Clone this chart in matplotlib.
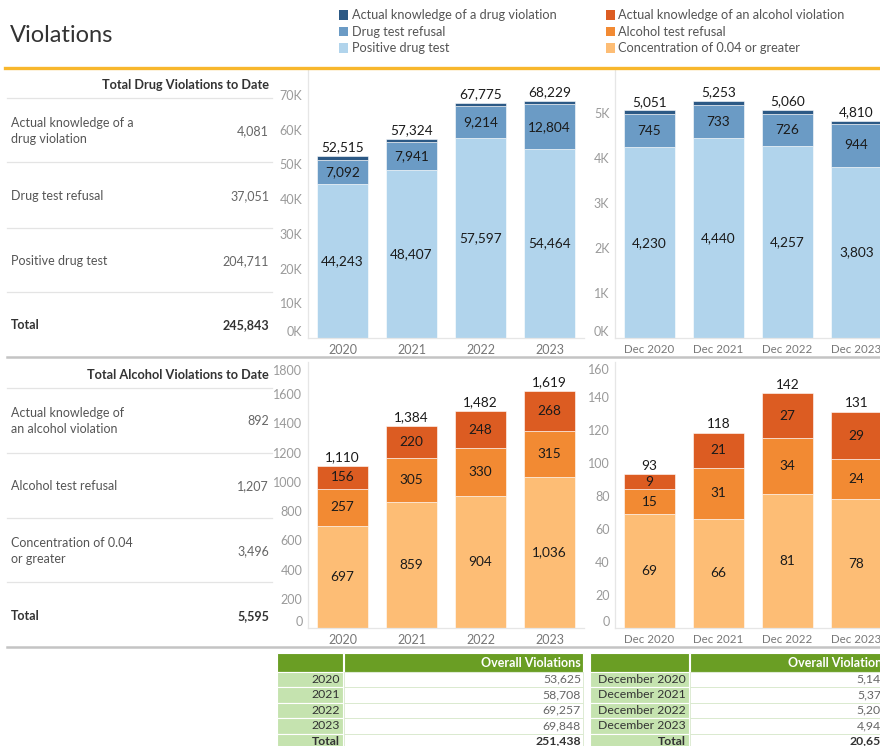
import matplotlib
matplotlib.use("Agg")
import matplotlib.pyplot as plt
from matplotlib.patches import Rectangle
from matplotlib.lines import Line2D

plt.rcParams['font.family'] = ['Lato', 'DejaVu Sans']

W, H = 880, 746

# ---------------- data ----------------
years = ["2020", "2021", "2022", "2023"]
months = ["Dec 2020", "Dec 2021", "Dec 2022", "Dec 2023"]

drug_positive_year = [44243, 48407, 57597, 54464]
drug_refusal_year = [7092, 7941, 9214, 12804]
drug_knowledge_year = [1180, 976, 964, 961]

drug_positive_dec = [4230, 4440, 4257, 3803]
drug_refusal_dec = [745, 733, 726, 944]
drug_knowledge_dec = [76, 80, 77, 63]

alc_conc_year = [697, 859, 904, 1036]
alc_refusal_year = [257, 305, 330, 315]
alc_knowledge_year = [156, 220, 248, 268]

alc_conc_dec = [69, 66, 81, 78]
alc_refusal_dec = [15, 31, 34, 24]
alc_knowledge_dec = [9, 21, 27, 29]

drug_table_labels = ["Actual knowledge of a\ndrug violation", "Drug test refusal", "Positive drug test"]
drug_table_values = [4081, 37051, 204711]
drug_table_total = 245843
alc_table_labels = ["Actual knowledge of\nan alcohol violation", "Alcohol test refusal", "Concentration of 0.04\nor greater"]
alc_table_values = [892, 1207, 3496]
alc_table_total = 5595

overall_year_labels = ["2020", "2021", "2022", "2023", "Total"]
overall_year_values = [53625, 58708, 69257, 69848, 251438]
overall_dec_labels = ["December 2020", "December 2021", "December 2022", "December 2023", "Total"]
overall_dec_values = [5144, 5371, 5202, 4941, 20658]

legend_drug = ["Actual knowledge of a drug violation", "Drug test refusal", "Positive drug test"]
legend_alc = ["Actual knowledge of an alcohol violation", "Alcohol test refusal", "Concentration of 0.04 or greater"]

# ---------------- styles ----------------
C_DRUG = ["#B1D4EC", "#6B9BC5", "#2C5985"]   # positive, refusal, knowledge
C_ALC = ["#FDBD75", "#F28A33", "#DC5C22"]    # concentration, refusal, knowledge
GREEN = "#6A9E24"
LGREEN = "#C5E3AF"
AX_GRAY = "#9A9A9A"

fig = plt.figure(figsize=(W / 100, H / 100), dpi=100)


def fx(x):
    return x / W


def fy(y):
    return 1 - y / H


def ftext(x, y, s, **kw):
    kw.setdefault('va', 'center')
    fig.text(fx(x), fy(y), s, **kw)


def hline(x0, x1, y, color, lw):
    fig.add_artist(Line2D([fx(x0), fx(x1)], [fy(y), fy(y)], color=color, lw=lw,
                          transform=fig.transFigure))


def rect(x0, y0, x1, y1, fc, ec='none', lw=0):
    fig.add_artist(Rectangle((fx(x0), fy(y1)), fx(x1) - fx(x0), fy(y0) - fy(y1),
                             facecolor=fc, edgecolor=ec, lw=lw, transform=fig.transFigure))


def px_axes(x0, y0, x1, y1):
    return fig.add_axes([fx(x0), fy(y1), fx(x1) - fx(x0), fy(y0) - fy(y1)])


# ---------------- header ----------------
ftext(10, 35, "Violations", fontsize=17, color="#333333", ha='left')
for i, (lab, c) in enumerate(zip(legend_drug, C_DRUG[::-1])):
    y = 15 + i * 16.5
    rect(339, y - 4.5, 348, y + 4.5, c)
    ftext(352, y, lab, fontsize=9.2, color="#555555", ha='left')
for i, (lab, c) in enumerate(zip(legend_alc, C_ALC[::-1])):
    y = 15 + i * 16.5
    rect(606, y - 4.5, 615, y + 4.5, c)
    ftext(618, y, lab, fontsize=9.2, color="#555555", ha='left')
hline(5, 880, 67.5, "#F8B72C", 2.4)


# ---------------- left tables ----------------
def side_table(y_head, seps, rows_y, labels, values, total, total_y, title):
    ftext(269, y_head, title, fontsize=9.2, fontweight='bold', color="#333333", ha='right')
    for s in seps:
        hline(7, 272, s, "#E4E4E4", 0.9)
    for lab, v, y in zip(labels, values, rows_y):
        ftext(11, y, lab, fontsize=9, color="#555555", ha='left', linespacing=1.35)
        ftext(269, y, f"{v:,}", fontsize=9, color="#666666", ha='right')
    ftext(11, total_y, "Total", fontsize=9, fontweight='bold', color="#333333", ha='left')
    ftext(269, total_y, f"{total:,}", fontsize=9, fontweight='bold', color="#333333", ha='right')


side_table(85, [98, 162, 228, 292], [131, 196, 261], drug_table_labels, drug_table_values,
           drug_table_total, 325, "Total Drug Violations to Date")
hline(7, 880, 357, "#C4C4C4", 1.8)
side_table(375, [388, 453, 518, 582], [421, 486, 551], alc_table_labels, alc_table_values,
           alc_table_total, 616, "Total Alcohol Violations to Date")
hline(7, 880, 647, "#C4C4C4", 1.8)


# ---------------- bar charts ----------------
def bar_chart(box, cats, series, colors, ymax, ticks, ticklabels, label_mask, edge_label, xfs=9):
    ax = px_axes(*box)
    n = len(cats)
    x = list(range(n))
    bottoms = [0] * n
    for si, (vals, c) in enumerate(zip(series, colors)):
        ax.bar(x, vals, bottom=bottoms, width=0.74, color=c, edgecolor='white', linewidth=0.4)
        if label_mask[si]:
            for i in range(n):
                ax.text(x[i], bottoms[i] + vals[i] / 2, f"{vals[i]:,}", ha='center', va='center',
                        fontsize=9.8, color="#1A1A1A")
        bottoms = [b + v for b, v in zip(bottoms, vals)]
    for i in range(n):
        ax.annotate(f"{bottoms[i]:,}", (x[i], bottoms[i]), xytext=(0, 2), textcoords='offset points',
                    ha='center', va='bottom', fontsize=9.8, color="#1A1A1A")
    ax.set_xlim(-0.5, n - 0.5)
    ax.set_ylim(0, ymax)
    ax.set_xticks(x)
    ax.set_xticklabels(cats, fontsize=xfs, color="#777777")
    ax.set_yticks(ticks)
    ax.set_yticklabels(ticklabels, fontsize=9, color=AX_GRAY)
    ax.tick_params(length=0, axis='y', pad=4)
    ax.tick_params(length=0, axis='x', pad=4)
    for s in ['top', 'right']:
        ax.spines[s].set_visible(False)
    ax.spines['left'].set_color("#E6E6E6")
    ax.spines['bottom'].set_color("#E6E6E6")
    ax.spines['left'].set_linewidth(0.9)
    ax.spines['bottom'].set_linewidth(0.9)
    ax.set_facecolor('none')
    lbls = ax.get_yticklabels()
    if edge_label == 'bottom':
        lbls[0].set_verticalalignment('bottom')
    elif edge_label == 'both':
        lbls[0].set_verticalalignment('bottom')
        lbls[-1].set_verticalalignment('top')
    return ax


dk = [i * 10000 for i in range(8)]
bar_chart((308, 70, 584, 338), years,
          [drug_positive_year, drug_refusal_year, drug_knowledge_year], C_DRUG, 77200,
          dk, [f"{v // 1000}K" for v in dk], [True, True, False], 'bottom')
dd = [i * 1000 for i in range(6)]
bar_chart((615, 70, 891, 338), months,
          [drug_positive_dec, drug_refusal_dec, drug_knowledge_dec], C_DRUG, 5950,
          dd, [f"{v // 1000}K" for v in dd], [True, True, False], 'bottom', xfs=8.3)
ak = [i * 200 for i in range(10)]
bar_chart((308, 362, 584, 628), years,
          [alc_conc_year, alc_refusal_year, alc_knowledge_year], C_ALC, 1820,
          ak, [str(v) for v in ak], [True, True, True], 'both')
ad = [i * 20 for i in range(9)]
bar_chart((615, 362, 891, 628), months,
          [alc_conc_dec, alc_refusal_dec, alc_knowledge_dec], C_ALC, 161,
          ad, [str(v) for v in ad], [True, True, True], 'both', xfs=8.3)


# ---------------- bottom tables ----------------
def bottom_table(x0, xm, x1, labels, values):
    top, head_h, row_h = 653, 18.5, 15.5
    rect(x0, top, xm, top + head_h, GREEN, ec='white', lw=0.8)
    rect(xm + 1, top, x1, top + head_h, GREEN, ec='white', lw=0.8)
    ftext(x1 - 2, top + head_h / 2 + 1, "Overall Violations", fontsize=9, fontweight='bold',
          color="white", ha='right')
    for i, (lab, v) in enumerate(zip(labels, values)):
        y0 = top + head_h + i * row_h
        rect(x0, y0, xm, y0 + row_h, LGREEN, ec='white', lw=0.8)
        rect(xm + 1, y0, x1, y0 + row_h, "white", ec="#D8E8CC", lw=0.6)
        bold = lab == "Total"
        ftext(xm - 3, y0 + row_h / 2, lab, fontsize=8.8, color="#333333", ha='right',
              fontweight='bold' if bold else 'normal')
        ftext(x1 - 2, y0 + row_h / 2, f"{v:,}", fontsize=8.8,
              color="#333333" if bold else "#666666", ha='right',
              fontweight='bold' if bold else 'normal')


bottom_table(277, 343, 583, overall_year_labels, overall_year_values)
bottom_table(590, 689, 890, overall_dec_labels, overall_dec_values)

fig.savefig("out.png", dpi=100)
